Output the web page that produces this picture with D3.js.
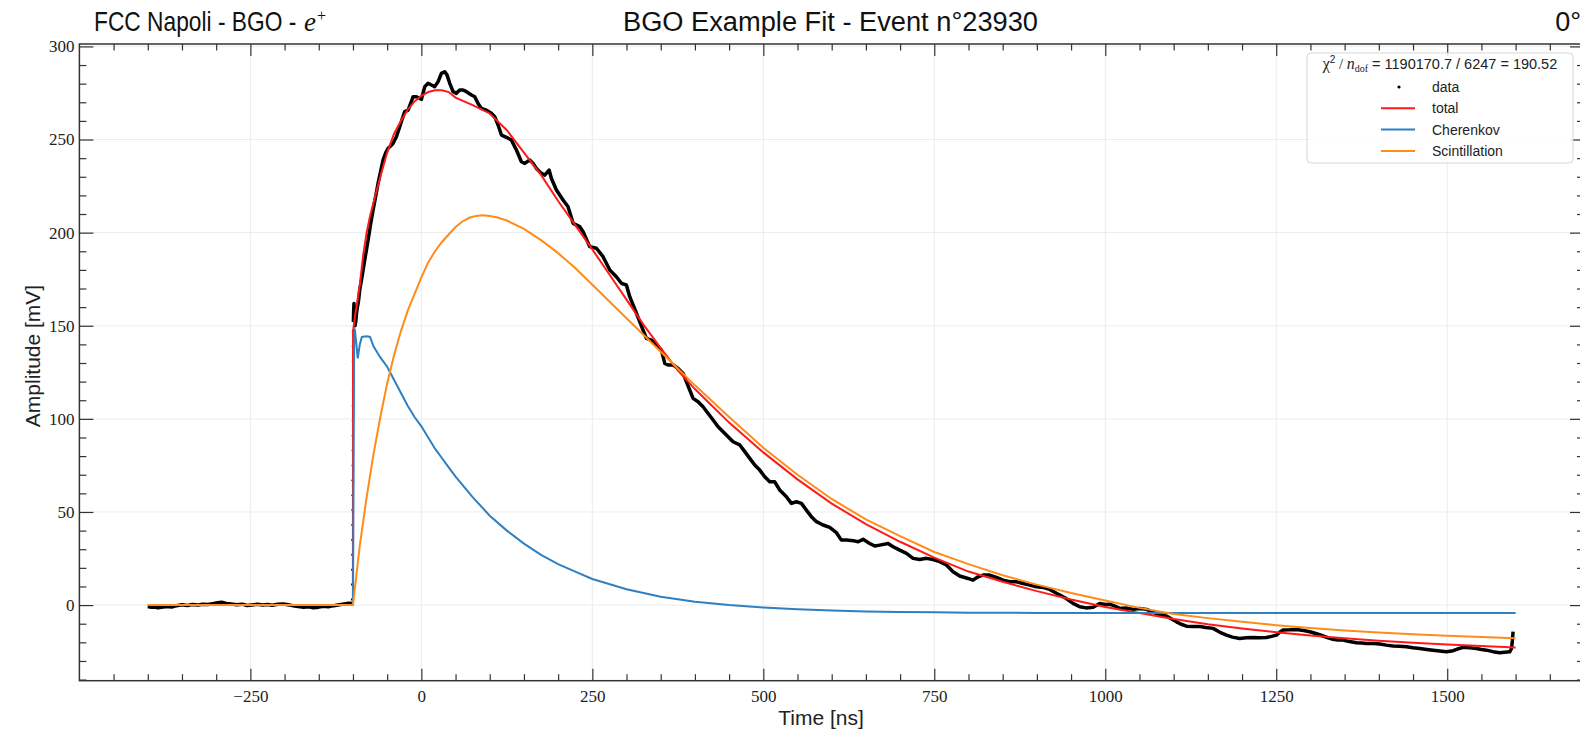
<!DOCTYPE html>
<html>
<head>
<meta charset="utf-8">
<script src="https://cdn.jsdelivr.net/npm/d3@7"></script>
<style>
  html, body { margin: 0; padding: 0; background: #fff; }
  svg { display: block; }
  .tick text { font-family: "Liberation Serif", "DejaVu Serif", serif; font-size: 17px; fill: #222; }
</style>
</head>
<body>
<div id="chart"></div>
<script>
// ---- data (time in ns, amplitude in mV) ----
var baselineData = [[-400,-0.8],[-395,-1.2],[-390,-1.0],[-385,-1.5],[-380,-1.2],[-372,-0.8],[-365,-1.0],[-358,-0.3],
  [-350,0.2],[-342,-0.2],[-335,0.3],[-327,0.0],[-320,0.5],[-312,0.3],[-305,0.8],[-298,1.3],[-292,1.5],[-285,0.9],
  [-278,0.6],[-270,0.2],[-262,0.5],[-255,-0.2],[-248,0.1],[-240,0.4],[-232,0.0],[-225,0.3],[-218,-0.1],[-210,0.4],
  [-202,0.6],[-195,0.2],[-188,-0.3],[-180,-0.8],[-172,-1.2],[-165,-0.9],[-158,-1.4],[-150,-1.1],[-143,-0.6],
  [-136,-0.9],[-128,-0.3],[-120,0.2],[-113,0.6],[-106,1.0],[-101,0.8]]

var edgeDots = [[-101.0,3],[-100.9,11],[-100.8,19],[-100.7,27],[-100.6,35],[-100.5,43],[-100.4,51],[-100.3,59],
  [-100.2,67],[-100.1,75],[-100.0,83],[-100.0,91],[-99.9,99],[-99.9,107],[-99.8,115],[-99.8,123],[-99.7,131],
  [-99.7,139],[-99.6,147]]

var pulseData = [[-99.4,152],[-99,158],[-98.5,162],[-97.8,155],[-97,150],[-96,152],[-95,156],[-93.5,160],[-92,163],
  [-90.1,169.2],[-86,178],[-82.8,185.3],[-77.9,196],[-74,205],[-70.6,212.1],[-67,219],[-63.3,226.5],[-59.5,233],
  [-56,239],[-52,243],[-48.6,245.3],[-45,246.5],[-41.3,248],[-36.5,251.5],[-31.6,256.9],[-28,261],[-24.3,265],
  [-19.4,265.8],[-15.5,269.5],[-12.1,273],[-7.2,273],[-3,272.2],[0.1,271.6],[5,278.4],[9.8,280.2],[14.7,279.3],
  [19.6,278.4],[24.5,281.1],[29.3,285.5],[34.2,286.4],[37.6,284.6],[41.5,280.2],[46.4,275.7],[51.3,274.8],
  [56.1,276.6],[61,276.6],[65.9,275.7],[73.2,273.9],[78.1,273],[82.9,269.4],[87.8,266.7],[95.1,265.8],
  [102.4,264.1],[107.3,262.3],[112.2,257.8],[117.1,252.4],[124.4,251.2],[131.7,249.7],[139,244.4],[146.3,238.1],
  [151.2,237.2],[158.5,239],[163.4,237.2],[168.2,234.5],[175.5,231.8],[180.4,230.9],[186.8,233.6],[190.2,229.1],
  [197.5,222.9],[207.2,217.5],[214.5,213.9],[221.9,205],[231.6,203.2],[236.5,200.5],[246.2,192.5],[256,191.6],
  [265.7,187.1],[275.5,179.9],[285.2,176.3],[292.5,172.8],[299.8,171.9],[304.7,165.6],[312,159],
  [319.3,152.2],[324.2,147.7],[329.1,143.2],[336.4,142.3],[343.7,139.6],[351,137],[355.9,129.8],[360.8,128.9],
  [368.1,128.9],[375.4,127.1],[382.7,124.4],[387.6,119.9],[392.4,115.5],[397.3,111],[404.6,109.2],[411.9,106.5],
  [419.3,102.9],[426.6,99.4],[433.9,95.8],[441.2,93.1],[448.5,90.4],[455.8,87.7],[465.6,86],[472.9,82.4],
  [480.2,78.8],[487.5,75.2],[494.8,72.5],[502.1,68.9],[509.4,66.2],[516.7,66.2],[524,61.8],[533.8,58.2],
  [541.1,54.6],[548.4,55.5],[555.7,54.6],[563,51],[570.3,47.5],[577.7,44.8],[587.4,43],[597.1,41.7],[606.9,38.9],
  [614.2,34.9],[621.5,34.9],[631.3,34.6],[638.6,34],[645.9,35.3],[655.6,33.1],[663,31.7],[670.3,32.2],[682.4,33.1],
  [689.8,31.3],[699.5,29.5],[709.3,27.8],[719,25.1],[728.7,24.5],[738.5,25.1],[748.2,24.5],[758,23.3],[767.7,21.5],
  [777.5,17.9],[787.2,15.6],[799.4,14.3],[806.7,13.4],[814,15.2],[821.3,16.1],[831.1,16.1],[840.8,14.9],
  [850.6,13.4],[860.3,12.5],[870.1,12.5],[879.8,11.6],[889.6,10.7],[899.3,9.8],[909.1,9.5],[918.8,8.4],
  [928.6,6.3],[933.5,5.4],[943,3.5],[952.9,0.9],[962.7,-0.9],[972,-1.5],[982.2,-1.2],[992,0.9],[1000,0.3],
  [1006.6,0.5],[1014,-0.5],[1021.2,-1.8],[1030,-1.6],[1040.7,-2.3],[1050,-1.8],[1060.2,-2.3],[1070,-3.8],
  [1079.7,-5.4],[1089.5,-5.9],[1097,-7.5],[1104.1,-9],[1111,-10.3],[1118.7,-11.3],[1128,-11.5],[1138.2,-11.5],
  [1147,-12],[1157.7,-12.5],[1167,-14.5],[1177.2,-16.1],[1186,-17.2],[1196.6,-17.9],[1206,-17.6],[1216.1,-17.4],
  [1225,-17.6],[1235.7,-17.4],[1243,-16.8],[1250.3,-16.1],[1255,-14.6],[1260,-13.4],[1270,-13.3],[1279.6,-13.1],
  [1290,-13.6],[1299,-14.3],[1309,-15.4],[1318.5,-16.6],[1326,-17.6],[1333.1,-18.4],[1340,-18.7],[1347.7,-18.8],
  [1357,-19.6],[1367.3,-20.2],[1375,-20.4],[1382,-20.6],[1392,-20.6],[1401.4,-20.9],[1411,-21.5],[1420.9,-22],
  [1430,-22.1],[1440.4,-22.4],[1450,-22.9],[1459.9,-23.3],[1470,-23.8],[1479.3,-24.2],[1489,-24.6],[1498.9,-25.1],
  [1508.6,-24.5],[1515,-23.6],[1523.2,-22.7],[1533,-22.9],[1542.7,-23.3],[1550,-23.8],[1557.4,-24.2],[1567,-25],
  [1576.8,-25.6],[1584,-25.3],[1591.4,-25.1],[1594,-23.3],[1595.3,-19],[1596.3,-14.3]]

var totalFit = [[-400,0],[-100.1,0],[-99.9,147],[-97,155],[-94,162],[-90,172],[-85,188],[-80,200],[-75,209],
  [-70,216],[-60,230],[-50,243],[-40,253],[-30,260],[-20,266],[-10,270.5],[0,273.5],[10,275.5],[20,276.5],
  [30,276.5],[40,275.5],[50,272.5],[75,268.5],[100,264],[125,255],[150,243],[175,231],[200,217],[225,204],
  [250,191],[275,177.5],[300,164],[325,150.5],[350,138],[375,126],[400,116],[450,98],[500,82],[550,67.5],
  [600,54.5],[650,43.5],[700,34],[750,25.5],[800,18],[850,12.5],[900,7.5],[950,3],[1000,-1],[1050,-4.3],
  [1100,-7.5],[1150,-10.3],[1200,-12.6],[1250,-14.6],[1300,-16.3],[1350,-17.8],[1400,-19.1],[1450,-20.2],
  [1500,-21.2],[1550,-22],[1600,-22.8]]

var cherenkovFit = [[-400,0],[-100,0],[-99.2,60],[-98.3,140],[-97.4,148.5],[-95,140],[-93,132.5],[-90,140],
  [-87,144],[-80,144.3],[-75,144],[-70,139],[-60,133],[-50,128],[-40,121],[-30,114],[-20,107],[-10,101],[0,96],
  [10,90],[20,84],[30,79],[40,74],[50,69],[75,58],[100,48],[125,40],[150,33],[175,27],[200,22],[225,18],[250,14],
  [300,8.5],[350,4.5],[400,1.8],[450,0],[500,-1.3],[550,-2.2],[600,-2.9],[650,-3.4],[700,-3.7],[750,-3.9],
  [800,-4.1],[900,-4.2],[1000,-4.3],[1600,-4.3]]

var scintFit = [[-400,0],[-100,0],[-90,32],[-80,58],[-70,81],[-60,101],[-50,119],[-40,134],[-30,147],[-20,158],
  [-10,167],[0,176],[10,184],[20,190],[30,195],[40,199],[50,203],[60,206],[70,208],[80,209],[90,209.3],[100,209],
  [110,208.3],[125,206.5],[150,202],[175,196],[200,189],[225,181],[250,172],[275,163],[300,154],[325,145],
  [350,136],[375,127],[400,118],[450,101],[500,84.5],[550,70],[600,57],[650,46],[700,37],[750,28.5],[800,22],
  [850,16],[900,11],[950,6.5],[1000,2.5],[1050,-1.5],[1100,-4.8],[1150,-7],[1200,-9],[1250,-10.8],[1300,-12.3],
  [1350,-13.6],[1400,-14.7],[1450,-15.7],[1500,-16.5],[1550,-17.2],[1600,-17.8]]

var xMajor = [-250, 0, 250, 500, 750, 1000, 1250, 1500]
var xMinor = d3.range(-450, 1700, 50).filter(v => v % 250 !== 0)
var yMajor = [0, 50, 100, 150, 200, 250, 300]
var yMinor = d3.range(-40, 300, 10).filter(v => v % 50 !== 0)

var legendItems = ['data', 'total', 'Cherenkov', 'Scintillation']
var seriesColors = {data: '#000000', total: '#ff1a1a', Cherenkov: '#2f7fc1', Scintillation: '#ff8c1a'}

// ---- layout ----
var W = 1580, H = 731
var margin = {left: 79.4, top: 44, right: -4, bottom: 50.3}
var width = W - margin.left - margin.right
var height = H - margin.top - margin.bottom

var svg = d3.select('#chart').append('svg')
  .attr('width', W)
  .attr('height', H)

var g = svg.append('g')
  .attr('transform', 'translate(' + margin.left + ',' + margin.top + ')')

var x = d3.scaleLinear().domain([-500, 1700]).range([0, width])
var y = d3.scaleLinear().domain([-40.6, 301.3]).range([height, 0])

// grid
g.append('g').selectAll('line').data(xMajor).join('line')
  .attr('x1', d => x(d)).attr('x2', d => x(d))
  .attr('y1', 0).attr('y2', height)
  .attr('stroke', '#ececec').attr('stroke-width', 1)
g.append('g').selectAll('line').data(yMajor).join('line')
  .attr('y1', d => y(d)).attr('y2', d => y(d))
  .attr('x1', 0).attr('x2', width)
  .attr('stroke', '#ececec').attr('stroke-width', 1)

// curves
var line = d3.line().x(d => x(d[0])).y(d => y(d[1]))

g.append('path').datum(baselineData)
  .attr('d', line).attr('fill', 'none')
  .attr('stroke', seriesColors.data).attr('stroke-width', 3.5).attr('stroke-linejoin', 'round')
g.append('path').datum(pulseData)
  .attr('d', line).attr('fill', 'none')
  .attr('stroke', seriesColors.data).attr('stroke-width', 3.5).attr('stroke-linejoin', 'round')
g.append('g').selectAll('circle').data(edgeDots).join('circle')
  .attr('cx', d => x(d[0])).attr('cy', d => y(d[1])).attr('r', 1.3)
  .attr('fill', seriesColors.data)

g.append('path').datum(totalFit)
  .attr('d', line).attr('fill', 'none')
  .attr('stroke', seriesColors.total).attr('stroke-width', 2)
g.append('path').datum(cherenkovFit)
  .attr('d', line).attr('fill', 'none')
  .attr('stroke', seriesColors.Cherenkov).attr('stroke-width', 2)
g.append('path').datum(scintFit)
  .attr('d', line).attr('fill', 'none')
  .attr('stroke', seriesColors.Scintillation).attr('stroke-width', 2)

// axes: ticks inward on all four sides
function styleAxis(sel) {
  sel.select('.domain').remove()
  sel.selectAll('.tick line').attr('stroke', '#333').attr('stroke-width', 1.2)
}

g.append('g').attr('transform', 'translate(0,' + height + ')')
  .call(d3.axisBottom(x).tickValues(xMajor).tickSizeInner(-12).tickSizeOuter(0).tickPadding(9)
    .tickFormat(d => d < 0 ? '\u2212' + Math.abs(d) : d))
  .call(styleAxis)
g.append('g').attr('transform', 'translate(0,' + height + ')')
  .call(d3.axisBottom(x).tickValues(xMinor).tickSizeInner(-6.5).tickSizeOuter(0).tickFormat(''))
  .call(styleAxis)
g.append('g')
  .call(d3.axisTop(x).tickValues(xMajor).tickSizeInner(-12).tickSizeOuter(0).tickFormat(''))
  .call(styleAxis)
g.append('g')
  .call(d3.axisTop(x).tickValues(xMinor).tickSizeInner(-6.5).tickSizeOuter(0).tickFormat(''))
  .call(styleAxis)

g.append('g')
  .call(d3.axisLeft(y).tickValues(yMajor).tickSizeInner(-14).tickSizeOuter(0).tickPadding(5))
  .call(styleAxis)
g.append('g')
  .call(d3.axisLeft(y).tickValues(yMinor).tickSizeInner(-7).tickSizeOuter(0).tickFormat(''))
  .call(styleAxis)
g.append('g').attr('transform', 'translate(' + width + ',0)')
  .call(d3.axisRight(y).tickValues(yMajor).tickSizeInner(-14).tickSizeOuter(0).tickFormat(''))
  .call(styleAxis)
g.append('g').attr('transform', 'translate(' + width + ',0)')
  .call(d3.axisRight(y).tickValues(yMinor).tickSizeInner(-7).tickSizeOuter(0).tickFormat(''))
  .call(styleAxis)

// frame
g.append('rect')
  .attr('width', width).attr('height', height)
  .attr('fill', 'none').attr('stroke', '#333').attr('stroke-width', 1.5)

// axis labels
var labelFont = 'Liberation Sans, Arial, sans-serif'
svg.append('text')
  .attr('x', 821).attr('y', 725)
  .attr('text-anchor', 'middle')
  .style('font-family', labelFont).style('font-size', '21px').style('fill', '#222')
  .text('Time [ns]')
svg.append('text')
  .attr('transform', 'translate(40,356) rotate(-90)')
  .attr('text-anchor', 'middle')
  .style('font-family', labelFont).style('font-size', '21px').style('fill', '#222')
  .text('Amplitude [mV]')

// titles
var titleFont = 'Liberation Sans, Arial, sans-serif'
svg.append('text').attr('transform', 'translate(94,31) scale(0.843,1)')
  .style('font-family', titleFont).style('font-size', '27px').style('fill', '#111')
  .text('FCC Napoli - BGO -')
svg.append('text').attr('x', 304).attr('y', 31)
  .style('font-family', 'Liberation Serif, serif').style('font-style', 'italic')
  .style('font-size', '27px').style('fill', '#111')
  .text('e')
svg.append('text').attr('x', 317).attr('y', 21)
  .style('font-family', 'Liberation Serif, serif').style('font-size', '16px').style('fill', '#111')
  .text('+')

svg.append('text').attr('x', 623).attr('y', 31)
  .attr('textLength', 415).attr('lengthAdjust', 'spacingAndGlyphs')
  .style('font-family', titleFont).style('font-size', '27px').style('fill', '#111')
  .text('BGO Example Fit - Event n\u00b023930')

svg.append('text').attr('x', 1581).attr('y', 31)
  .attr('text-anchor', 'end')
  .style('font-family', titleFont).style('font-size', '27px').style('fill', '#111')
  .text('0\u00b0')

// legend
var lg = svg.append('g').attr('transform', 'translate(1307,53)')
lg.append('rect').attr('width', 266).attr('height', 110).attr('rx', 4)
  .attr('fill', '#fff').attr('fill-opacity', 0.85).attr('stroke', '#d6d6d6')

var lt = lg.append('text').attr('x', 133).attr('y', 16).attr('text-anchor', 'middle')
  .style('font-family', labelFont).style('font-size', '14.5px').style('fill', '#222')
lt.append('tspan').style('font-family', 'Liberation Serif, serif').style('font-size', '16px').text('\u03c7')
lt.append('tspan').attr('dy', -6).style('font-size', '10px').text('2')
lt.append('tspan').attr('dy', 6).style('font-family', 'Liberation Serif, serif').text(' / ')
lt.append('tspan').style('font-family', 'Liberation Serif, serif').style('font-style', 'italic').style('font-size', '16px').text('n')
lt.append('tspan').attr('dy', 3).style('font-family', 'Liberation Serif, serif').style('font-size', '10px').text('dof')
lt.append('tspan').attr('dy', -3).text(' = 1190170.7 / 6247 = 190.52')

var rows = lg.selectAll('g.row').data(legendItems).join('g')
  .attr('class', 'row')
  .attr('transform', (d, i) => 'translate(0,' + (34 + i * 21.3) + ')')
rows.each(function(d) {
  var r = d3.select(this)
  if (d === 'data') {
    r.append('circle').attr('cx', 92).attr('cy', 0).attr('r', 1.6).attr('fill', seriesColors.data)
  } else {
    r.append('line').attr('x1', 74).attr('x2', 108).attr('y1', 0).attr('y2', 0)
      .attr('stroke', seriesColors[d]).attr('stroke-width', 2)
  }
  r.append('text').attr('x', 125).attr('y', 5)
    .style('font-family', labelFont).style('font-size', '14px').style('fill', '#222')
    .text(d)
})
</script>
</body>
</html>
